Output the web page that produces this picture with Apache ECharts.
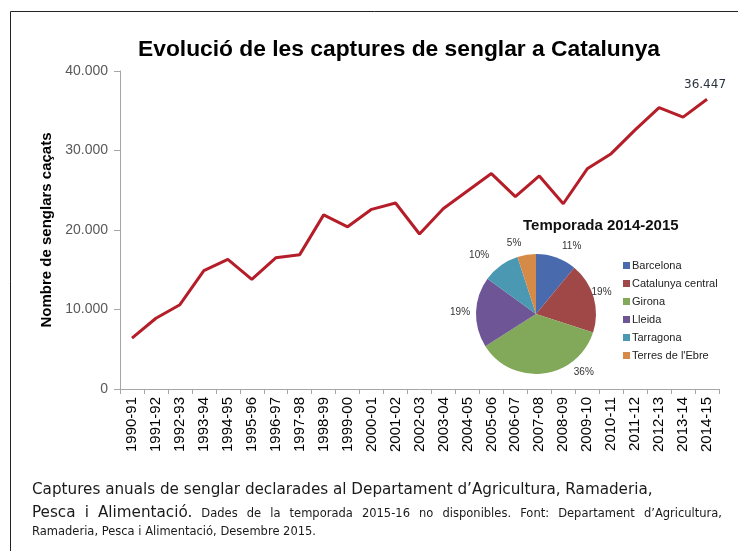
<!DOCTYPE html>
<html>
<head>
<meta charset="utf-8">
<script src="https://cdn.jsdelivr.net/npm/echarts@6/dist/echarts.min.js"></script>
<style>
  html, body { margin: 0; padding: 0; background: #fff; }
  #main { width: 738px; height: 551px; }
</style>
</head>
<body>
<div id="main"></div>
<script>
// temporades (eix x)
var seasons = ['1990-91', '1991-92', '1992-93', '1993-94', '1994-95', '1995-96', '1996-97',
  '1997-98', '1998-99', '1999-00', '2000-01', '2001-02', '2002-03', '2003-04', '2004-05',
  '2005-06', '2006-07', '2007-08', '2008-09', '2009-10', '2010-11', '2011-12', '2012-13',
  '2013-14', '2014-15'];
// senglars caçats per temporada
var captures = [6400, 8900, 10600, 14900, 16300, 13800, 16500, 16900, 21900, 20400, 22600,
  23400, 19500, 22700, 24900, 27100, 24200, 26800, 23300, 27700, 29600, 32600, 35400,
  34200, 36447];
var yMin = 0;
var yMax = 40000;
var yStep = 10000;

// pastís temporada 2014-2015
var regions = ['Barcelona', 'Catalunya central', 'Girona', 'Lleida', 'Tarragona', "Terres de l'Ebre"];
var regionShare = [11, 19, 36, 19, 10, 5];
var regionColors = ['#4a6aae', '#a04848', '#82a95a', '#6e5596', '#4a98b2', '#d58a48'];
// petits desplaçaments de les etiquetes com a l'Excel
var pieLabelOffsets = [[0, -9], [-9, -4], [25, -3], [-4, 0], [-7, -11], [0, -10]];

var captionLine1 = 'Captures anuals de senglar declarades al Departament d\u2019Agricultura, Ramaderia,';
var captionBig = 'Pesca i Alimentaci\u00f3.';
var captionSmall = 'Dades de la temporada 2015-16 no disponibles. Font: Departament d\u2019Agricultura,';
var captionLine3 = 'Ramaderia, Pesca i Alimentaci\u00f3, Desembre 2015.';

function thousands(v) {
  return String(v).replace(/\B(?=(\d{3})+(?!\d))/g, '.');
}

// mesura de text per justificar la segona línia del peu
var measureCtx = document.createElement('canvas').getContext('2d');
function textWidth(str, font) {
  measureCtx.font = font;
  return measureCtx.measureText(str).width;
}

var capFont = '"DejaVu Sans", sans-serif';
var bigSize = 15.2;
var smallSize = 11.5;
var bigFont = bigSize + 'px ' + capFont;
var smallFont = smallSize + 'px ' + capFont;

// el text es col·loca per dalt: la línia base queda uns 0.77 * mida més avall
function topFor(baseline, size) {
  return baseline - size * 0.77;
}

function captionText(str, x, baseline, size) {
  return {
    type: 'text',
    x: x,
    y: topFor(baseline, size),
    style: {
      text: str,
      font: size + 'px ' + capFont,
      fill: '#1a1a1a'
    }
  };
}

function justifiedLine(x0, x1, baseline) {
  var words = [];
  captionBig.split(' ').forEach(function (w) { words.push({ t: w, s: bigSize, f: bigFont }); });
  captionSmall.split(' ').forEach(function (w) { words.push({ t: w, s: smallSize, f: smallFont }); });
  var total = 0;
  words.forEach(function (w) { w.w = textWidth(w.t, w.f); total += w.w; });
  var gap = (x1 - x0 - total) / (words.length - 1);
  var x = x0;
  var out = [];
  words.forEach(function (w) {
    out.push(captionText(w.t, x, baseline, w.s));
    x += w.w + gap;
  });
  return out;
}

var lineData = captures.map(function (v, i) {
  if (i === captures.length - 1) {
    return {
      value: v,
      label: {
        show: true,
        position: 'top',
        distance: 8,
        offset: [-2, 0],
        formatter: function (p) { return thousands(p.value); },
        fontFamily: '"DejaVu Sans", sans-serif',
        fontSize: 12,
        color: '#2a3340'
      }
    };
  }
  return v;
});

var pieData = regions.map(function (name, i) {
  return {
    name: name,
    value: regionShare[i],
    itemStyle: { color: regionColors[i] },
    label: { offset: pieLabelOffsets[i] }
  };
});

var myChart = echarts.init(document.getElementById('main'), null, { renderer: 'canvas' });

var option = {
  backgroundColor: '#fff',
  animation: false,
  textStyle: { fontFamily: '"Liberation Sans", Arial, sans-serif' },
  title: [
    {
      text: 'Evoluci\u00f3 de les captures de senglar a Catalunya',
      left: 133,
      top: 33,
      textStyle: { fontSize: 22.8, fontWeight: 'bold', color: '#000' }
    },
    {
      text: 'Temporada 2014-2015',
      left: 518,
      top: 213,
      textStyle: { fontSize: 15, fontWeight: 'bold', color: '#111' }
    }
  ],
  legend: {
    data: regions,
    orient: 'vertical',
    left: 618,
    top: 255,
    itemWidth: 7,
    itemHeight: 7,
    itemGap: 7,
    icon: 'rect',
    textStyle: { fontSize: 11, color: '#222', padding: [0, 0, 0, -3] }
  },
  grid: {
    left: 120,
    right: 19,
    top: 71,
    bottom: 162
  },
  xAxis: {
    type: 'category',
    data: seasons,
    boundaryGap: true,
    axisLine: { lineStyle: { color: '#a6a6a6', width: 1 } },
    axisTick: { show: true, length: 5, lineStyle: { color: '#a6a6a6' } },
    axisLabel: {
      interval: 0,
      rotate: 90,
      margin: 8,
      fontSize: 15,
      color: '#000'
    },
    splitLine: { show: false }
  },
  yAxis: {
    type: 'value',
    min: yMin,
    max: yMax,
    interval: yStep,
    name: 'Nombre de senglars ca\u00e7ats',
    nameLocation: 'middle',
    nameRotate: 90,
    nameGap: 66,
    nameTextStyle: { fontSize: 15, fontWeight: 'bold', color: '#000' },
    axisLine: { show: true, lineStyle: { color: '#a6a6a6', width: 1 } },
    axisTick: { show: true, length: 6, lineStyle: { color: '#a6a6a6' } },
    axisLabel: {
      margin: 12,
      fontSize: 14,
      color: '#595959',
      formatter: function (v) { return thousands(v); }
    },
    splitLine: { show: false }
  },
  series: [
    {
      name: 'Captures',
      type: 'line',
      data: lineData,
      symbol: 'circle',
      symbolSize: 0.01,
      showSymbol: true,
      lineStyle: { color: '#b51e29', width: 3 },
      itemStyle: { color: '#b51e29' },
      z: 3
    },
    {
      name: 'Temporada 2014-2015',
      type: 'pie',
      center: [536, 314],
      radius: 60,
      startAngle: 90,
      clockwise: true,
      data: pieData,
      label: {
        show: true,
        position: 'outside',
        formatter: '{c}%',
        fontSize: 10,
        color: '#333'
      },
      labelLine: { show: false, length: 2, length2: 0 },
      itemStyle: { borderWidth: 0 },
      z: 5
    }
  ],
  graphic: [
    {
      type: 'rect',
      shape: { x: 10.5, y: 11.5, width: 760, height: 580 },
      style: { fill: 'none', stroke: '#222', lineWidth: 1 },
      silent: true
    },
    captionText(captionLine1, 32, 494, bigSize)
  ].concat(justifiedLine(32, 722, 517)).concat([
    captionText(captionLine3, 32, 535, smallSize)
  ])
};

myChart.setOption(option);
</script>
</body>
</html>
